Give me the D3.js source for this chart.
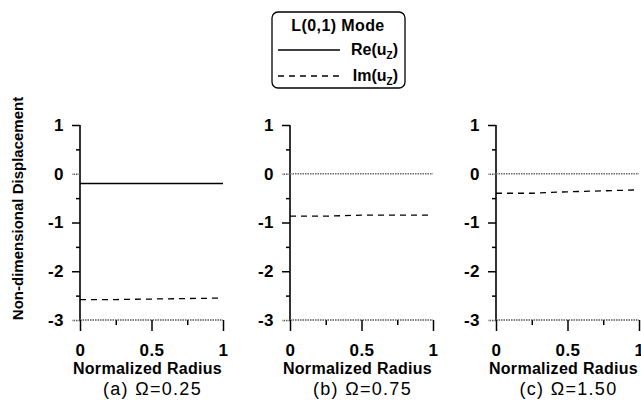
<!DOCTYPE html>
<html>
<head>
<meta charset="utf-8">
<script src="https://cdn.jsdelivr.net/npm/d3@7"></script>
<style>
  body { margin: 0; background: #fff; }
  text { font-family: "Liberation Sans", Arial, sans-serif; fill: #000; }
</style>
</head>
<body>
<div id="chart"></div>
<script>
// 資料
const radius = [0, 0.25, 0.5, 0.75, 1];
const panelLetters = ['(a)', '(b)', '(c)'];
const omegaLabels = ['0.25', '0.75', '1.50'];
const reValues = [
    [-0.2, -0.2, -0.2, -0.2, -0.2],
    [0, 0, 0, 0, 0],
    [0, 0, 0, 0, 0]
];
const imValues = [
    [-2.58, -2.58, -2.57, -2.56, -2.55],
    [-0.87, -0.87, -0.85, -0.85, -0.85],
    [-0.40, -0.40, -0.37, -0.35, -0.33]
];
const xTickValues = [0, 0.5, 1];
const yTickValues = [-3, -2, -1, 0, 1];

const width = 641, height = 400;
const panelLeft = [80, 290, 496];
const panelWidth = 143;
const plotTop = 125, plotBottom = 320;

const svg = d3.select('#chart').append('svg')
    .attr('width', width)
    .attr('height', height);

const yScale = d3.scaleLinear().domain([-3, 1]).range([plotBottom, plotTop]);

panelLetters.forEach((letter, i) => {
    const xScale = d3.scaleLinear().domain([0, 1]).range([panelLeft[i], panelLeft[i] + panelWidth]);
    const g = svg.append('g');

    // 次刻度
    const yMinor = d3.axisLeft(yScale).tickValues([-2.5, -1.5, -0.5, 0.5]).tickSize(4).tickFormat('');
    g.append('g').attr('transform', `translate(${panelLeft[i]},0)`).call(yMinor)
        .call(a => a.select('.domain').remove())
        .selectAll('line').attr('stroke-width', 1.5);
    const xMinor = d3.axisBottom(xScale).tickValues([0.25, 0.75]).tickSize(5).tickFormat('');
    g.append('g').attr('transform', `translate(0,${plotBottom})`).call(xMinor)
        .call(a => a.select('.domain').remove())
        .selectAll('line').attr('stroke-width', 1.5);

    // y 軸
    const yAxis = d3.axisLeft(yScale).tickValues(yTickValues).tickSize(8).tickPadding(8)
        .tickFormat(d3.format('d'));
    const yG = g.append('g').attr('transform', `translate(${panelLeft[i]},0)`).call(yAxis);
    yG.select('.domain').attr('d', `M0,${plotTop}V${plotBottom}`).attr('stroke-width', 1.6);
    yG.selectAll('.tick line').attr('stroke-width', 1.5)
        .filter(d => d === 0 || d === -3)
        .attr('stroke', '#555').attr('stroke-dasharray', '1.5,1');
    yG.selectAll('text').style('font-size', '17px').style('font-weight', 'bold')
        .style('letter-spacing', '0.5px')
        .text(d => d < 0 ? '-' + Math.abs(d) : d);

    // x 軸
    const xAxis = d3.axisBottom(xScale).tickValues(xTickValues).tickSize(11).tickPadding(13)
        .tickFormat(d => d === 0.5 ? '0.5' : d);
    const xG = g.append('g').attr('transform', `translate(0,${plotBottom})`).call(xAxis);
    xG.select('.domain').attr('d', `M${panelLeft[i]},0H${panelLeft[i] + panelWidth}`)
        .attr('stroke', '#555').attr('stroke-width', 1.5).attr('stroke-dasharray', '1.5,1');
    xG.selectAll('.tick line').attr('stroke-width', 1.5);
    xG.selectAll('text').style('font-size', '17px').style('font-weight', 'bold')
        .style('letter-spacing', '0.5px');

    // 線條
    const line = d3.line().x((d, j) => xScale(radius[j])).y(d => yScale(d));
    const reZero = reValues[i].every(v => v === 0);
    g.append('path')
        .datum(reValues[i])
        .attr('fill', 'none')
        .attr('stroke', reZero ? '#666' : '#000')
        .attr('stroke-width', reZero ? 1.5 : 1.6)
        .attr('stroke-dasharray', reZero ? '1.5,1' : null)
        .attr('d', line);
    g.append('path')
        .datum(imValues[i])
        .attr('fill', 'none')
        .attr('stroke', '#000')
        .attr('stroke-width', 1.3)
        .attr('stroke-dasharray', '6,5')
        .attr('d', line);

    // 標題
    const cx = panelLeft[i] + panelWidth / 2 - 4;
    g.append('text').attr('x', cx).attr('y', 374).attr('text-anchor', 'middle')
        .style('font-size', '16px').style('font-weight', 'bold').style('letter-spacing', '0.3px')
        .text('Normalized Radius');
    g.append('text').attr('x', cx + 5).attr('y', 395).attr('text-anchor', 'middle')
        .style('font-size', '18px').style('letter-spacing', '1.3px')
        .text(`${letter} Ω=${omegaLabels[i]}`);
});

// y 軸標籤
svg.append('text')
    .attr('transform', `translate(23,${(plotTop + plotBottom) / 2 - 14}) rotate(-90)`)
    .attr('text-anchor', 'middle')
    .style('font-size', '15px').style('font-weight', 'bold')
    .text('Non-dimensional Displacement');

// 圖例
const legend = svg.append('g');
legend.append('rect')
    .attr('x', 272).attr('y', 12).attr('width', 133).attr('height', 76).attr('rx', 6)
    .attr('fill', 'none').attr('stroke', '#000').attr('stroke-width', 1.3);
legend.append('text').attr('x', 338).attr('y', 31).attr('text-anchor', 'middle')
    .style('font-size', '16px').style('font-weight', 'bold').style('letter-spacing', '0.4px')
    .text('L(0,1) Mode');
const legendItems = [
    { name: 'Re', dash: null, y: 50 },
    { name: 'Im', dash: '6,5', y: 76 }
];
legendItems.forEach(item => {
    legend.append('line')
        .attr('x1', 278).attr('x2', 340).attr('y1', item.y).attr('y2', item.y)
        .attr('stroke', '#000').attr('stroke-width', 1.3)
        .attr('stroke-dasharray', item.dash);
    const t = legend.append('text').attr('x', 398).attr('y', item.y + 5).attr('text-anchor', 'end')
        .style('font-size', '16px').style('font-weight', 'bold');
    t.append('tspan').text(`${item.name}(u`);
    t.append('tspan').attr('dy', 4).style('font-size', '10px').text('Z');
    t.append('tspan').attr('dy', -4).text(')');
});
</script>
</body>
</html>
